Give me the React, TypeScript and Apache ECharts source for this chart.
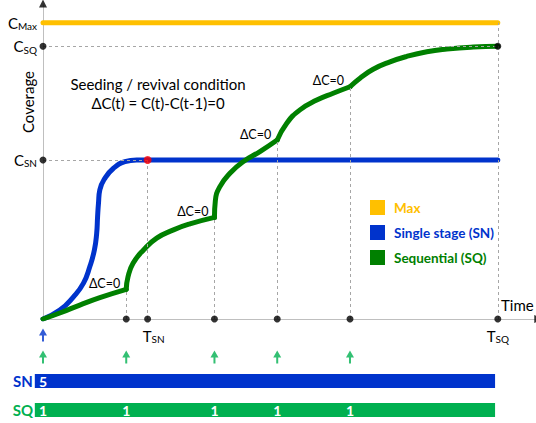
import React, { useEffect, useRef } from 'react';
import * as echarts from 'echarts';

const FONT = 'Lato, "Open Sans", sans-serif';

// Key times (time axis, T_SQ = 100)
const seedTimesSQ = [0, 18.3, 37.7, 51.5, 67.5];
const seedTimesSN = [0];
const tSN = 23.0;
const tSQ = 100;

// Coverage levels (C_Max = 100)
const cMax = 100;
const cSQ = 92.1;
const cSN = 53.7;

// Coverage reached at each sequential re-seeding (ΔC = 0 points)
const cuspLevels = [10.0, 34.3, 60.4, 78.4];

// Seeds per stage
const seedsSN = [5];
const seedsSQ = [1, 1, 1, 1, 1];

// Curves
const maxLine: number[][] = [[0, cMax], [tSQ, cMax]];
const snRise: number[][] = [
  [0, 0], [3.7, 3.0], [6.7, 7.5], [8.9, 12.1], [10.3, 17.7], [11.3, 23.3], [11.8, 28.9], [12.0, 34.5],
  [12.2, 39.1], [12.5, 43.6], [13.6, 47.5], [15.5, 50.9], [18.0, 53.1], [20.6, 53.7], [23.0, 53.7],
];
const snPlateau: number[][] = [[23.0, 53.7], [100, 53.7]];
const sqSeg1: number[][] = [[0, 0], [4, 2.2], [8.1, 4.7], [12.5, 7.2], [18.3, 10.0]];
const sqSeg2: number[][] = [[18.3, 10.0], [18.7, 14.3], [19.8, 18.8], [22.1, 23.3], [25.0, 27.3], [28.7, 30.1], [32.3, 32.1], [37.7, 34.3]];
const sqSeg3: number[][] = [[37.7, 34.3], [37.9, 40.0], [38.9, 44.7], [41.1, 49.2], [44.0, 53.1], [47.7, 56.5], [51.5, 60.4]];
const sqSeg4: number[][] = [[51.5, 60.4], [53.6, 66.1], [56.5, 70.6], [60.2, 73.9], [63.8, 76.2], [67.5, 78.4]];
const sqSeg5: number[][] = [[67.5, 78.4], [69.7, 81.3], [72.6, 84.3], [76.3, 86.8], [79.9, 88.6], [84.4, 90.2], [88.8, 91.1], [94.6, 91.8], [100, 92.1]];
const sqSegments = [sqSeg1, sqSeg2, sqSeg3, sqSeg4, sqSeg5];

// Bottom strip extents (time units)
const stripStart = -1.8;
const stripEnd = 99.4;

const BLUE = '#0033CC';
const GREEN = '#008000';
const GREEN2 = '#00B050';
const YELLOW = '#FFC000';
const GRAY = '#BFBFBF';
const DASH = '#A6A6A6';

// rows in bottom strip (pixel offsets from strip top)
const ROW_SN_ARROW = 12;
const ROW_SQ_ARROW = 34;
const ROW_SN_BAR = 58;
const ROW_SQ_BAR = 87;

const ARROW = 'path://M4,0 L8,7 L5,7 L5,13 L3,13 L3,7 L0,7 Z';

function buildOption(): any {
  const cuspPoints = cuspLevels.map((c, i) => [seedTimesSQ[i + 1], c]);
  const axisDots: number[][] = [
    [0, cSQ], [0, cSN],
    ...seedTimesSQ.slice(1).map((t) => [t, 0]),
    [tSN, 0], [tSQ, 0], [tSQ, cSQ],
  ];
  const guides = [
    [[0, cSQ], [tSQ, cSQ]],
    [[0, cSN], [tSN, cSN]],
    ...cuspPoints.map((p) => [[p[0], 0], p]),
    [[tSN, 0], [tSN, cSN]],
    [[tSQ, 0], [tSQ, cMax]],
  ];
  const sub = { fontSize: 10, fontFamily: FONT, color: '#000', padding: [7, 0, 0, 0] };
  const big = { fontSize: 15, fontFamily: FONT, color: '#000' };
  const bigShift = { ...big, padding: [0, 0, 0, 12] };

  const curve = (name: string, data: number[][], color: string, smooth: number | boolean) => ({
    name, type: 'line', data, color, symbol: 'none', smooth,
    lineStyle: { width: 5, cap: 'round', join: 'round' }, silent: true,
  });

  const barSeries = (row: number, color: string) => ({
    type: 'custom',
    xAxisIndex: 1,
    yAxisIndex: 1,
    data: [[stripStart, row, stripEnd]],
    silent: true,
    renderItem: (params: any, api: any) => {
      const s = api.coord([api.value(0), api.value(1)]);
      const e = api.coord([api.value(2), api.value(1)]);
      return { type: 'rect', shape: { x: s[0], y: s[1] - 7, width: e[0] - s[0], height: 14 }, style: { fill: color } };
    },
  });
  const countSeries = (times: number[], counts: number[], row: number) => ({
    type: 'custom',
    xAxisIndex: 1,
    yAxisIndex: 1,
    data: times.map((t) => [t, row]),
    silent: true,
    z: 5,
    renderItem: (params: any, api: any) => {
      const p = api.coord([api.value(0), api.value(1)]);
      return {
        type: 'text', x: p[0], y: p[1],
        style: { text: String(counts[params.dataIndex]), fill: '#fff', font: `bold 14px ${FONT}`, align: 'center', verticalAlign: 'middle' },
      };
    },
  });

  return {
    animation: false,
    grid: [
      { left: 43, right: 0, top: 5, height: 314 },
      { left: 43, right: 0, top: 323, height: 100 },
    ],
    xAxis: [
      {
        type: 'value', gridIndex: 0, min: 0, max: 108.4,
        axisLine: { show: true, onZero: false, lineStyle: { color: GRAY, width: 1 } },
        axisTick: { show: false }, splitLine: { show: false },
        axisLabel: {
          customValues: [tSN, tSQ], margin: 8,
          formatter: (v: number) => (Math.abs(v - tSN) < 0.01 ? '{ts|T}{s|SN}' : '{t|T}{s|SQ}'),
          rich: { t: big, ts: bigShift, s: sub },
        },
      },
      { type: 'value', gridIndex: 1, min: 0, max: 108.4, show: false },
    ],
    yAxis: [
      {
        type: 'value', gridIndex: 0, min: 0, max: 106,
        axisLine: { show: true, onZero: false, lineStyle: { color: GRAY, width: 1 } },
        axisTick: { show: false }, splitLine: { show: false },
        axisLabel: {
          customValues: [cSN, cSQ, cMax], margin: 6,
          formatter: (v: number) => (v === cMax ? '{t|C}{s|Max}' : v === cSQ ? '{t|C}{s|SQ}' : '{t|C}{s|SN}'),
          rich: { t: big, s: sub },
        },
      },
      { type: 'value', gridIndex: 1, min: 0, max: 100, inverse: true, show: false },
    ],
    legend: {
      orient: 'vertical', left: 365, top: 195, itemWidth: 15, itemHeight: 15, itemGap: 10, icon: 'rect',
      textStyle: { fontFamily: FONT, fontSize: 13.5, fontWeight: 'bold', padding: [0, 0, 0, 4] },
      data: [
        { name: 'Max', textStyle: { color: YELLOW } },
        { name: 'Single stage (SN)', textStyle: { color: BLUE } },
        { name: 'Sequential (SQ)', textStyle: { color: GREEN } },
      ],
      selectedMode: false,
    },
    series: [
      {
        name: 'guides', type: 'line', data: [[0, 0]], symbol: 'none', lineStyle: { width: 0 }, silent: true,
        markLine: {
          silent: true, symbol: ['none', 'none'], label: { show: false },
          lineStyle: { color: DASH, type: [3, 3], width: 1 },
          data: guides.map(([a, b]) => [{ coord: a }, { coord: b }]),
        },
      },
      curve('Max', maxLine, YELLOW, false),
      curve('Single stage (SN)', snRise, BLUE, 0.5),
      curve('Single stage (SN)', snPlateau, BLUE, false),
      ...sqSegments.map((seg) => curve('Sequential (SQ)', seg, GREEN, 0.5)),
      {
        type: 'custom', data: cuspPoints, silent: true,
        renderItem: (params: any, api: any) => {
          const p = api.coord([api.value(0), api.value(1)]);
          return {
            type: 'text', x: p[0] - 6, y: p[1] - 6,
            style: { text: 'ΔC=0', fill: '#000', font: `12.5px ${FONT}`, align: 'right', verticalAlign: 'middle' },
          };
        },
      },
      {
        type: 'scatter', data: axisDots, symbolSize: 7, clip: false, silent: true,
        itemStyle: { color: '#000' }, z: 6,
      },
      {
        type: 'scatter', data: [[tSN, cSN]], symbolSize: 8, silent: true,
        itemStyle: { color: '#FF0000' }, z: 7,
      },
      {
        type: 'scatter', data: [[0, 106.5]], symbol: 'triangle', symbolSize: [8, 8], clip: false, silent: true,
        itemStyle: { color: '#000' },
      },
      {
        type: 'scatter', data: [[108.9, 0]], symbol: 'triangle', symbolRotate: -90, symbolSize: [8, 8], clip: false, silent: true,
        itemStyle: { color: '#000' },
      },
      barSeries(ROW_SN_BAR, BLUE),
      barSeries(ROW_SQ_BAR, GREEN2),
      countSeries(seedTimesSN, seedsSN, ROW_SN_BAR),
      countSeries(seedTimesSQ, seedsSQ, ROW_SQ_BAR),
      {
        type: 'scatter', xAxisIndex: 1, yAxisIndex: 1, data: seedTimesSN.map((t) => [t, ROW_SN_ARROW]),
        symbol: ARROW, symbolSize: [8, 13], clip: false, silent: true, itemStyle: { color: BLUE },
      },
      {
        type: 'scatter', xAxisIndex: 1, yAxisIndex: 1, data: seedTimesSQ.map((t) => [t, ROW_SQ_ARROW]),
        symbol: ARROW, symbolSize: [8, 13], clip: false, silent: true, itemStyle: { color: GREEN2 },
      },
    ],
    graphic: [
      { type: 'text', x: 158, y: 84, style: { text: 'Seeding / revival condition', font: `15px ${FONT}`, fill: '#000', align: 'center', verticalAlign: 'middle' } },
      { type: 'text', x: 158, y: 103, style: { text: 'ΔC(t) = C(t)-C(t-1)=0', font: `15px ${FONT}`, fill: '#000', align: 'center', verticalAlign: 'middle' } },
      { type: 'text', x: 28, y: 102, rotation: Math.PI / 2, style: { text: 'Coverage', font: `15px ${FONT}`, fill: '#000', align: 'center', verticalAlign: 'middle' } },
      { type: 'text', x: 501, y: 305, style: { text: 'Time', font: `15px ${FONT}`, fill: '#000', align: 'left', verticalAlign: 'middle' } },
      { type: 'text', x: 23, y: 381, style: { text: 'SN', font: `bold 15px ${FONT}`, fill: BLUE, align: 'center', verticalAlign: 'middle' } },
      { type: 'text', x: 23, y: 410, style: { text: 'SQ', font: `bold 15px ${FONT}`, fill: GREEN2, align: 'center', verticalAlign: 'middle' } },
    ],
  };
}

export default function App() {
  const ref = useRef<HTMLDivElement>(null);
  useEffect(() => {
    document.body.style.margin = '0';
    const chart = echarts.init(ref.current as HTMLDivElement, null, { renderer: 'svg' });
    chart.setOption(buildOption());
    return () => chart.dispose();
  }, []);
  return <div ref={ref} style={{ width: 536, height: 423 }} />;
}
